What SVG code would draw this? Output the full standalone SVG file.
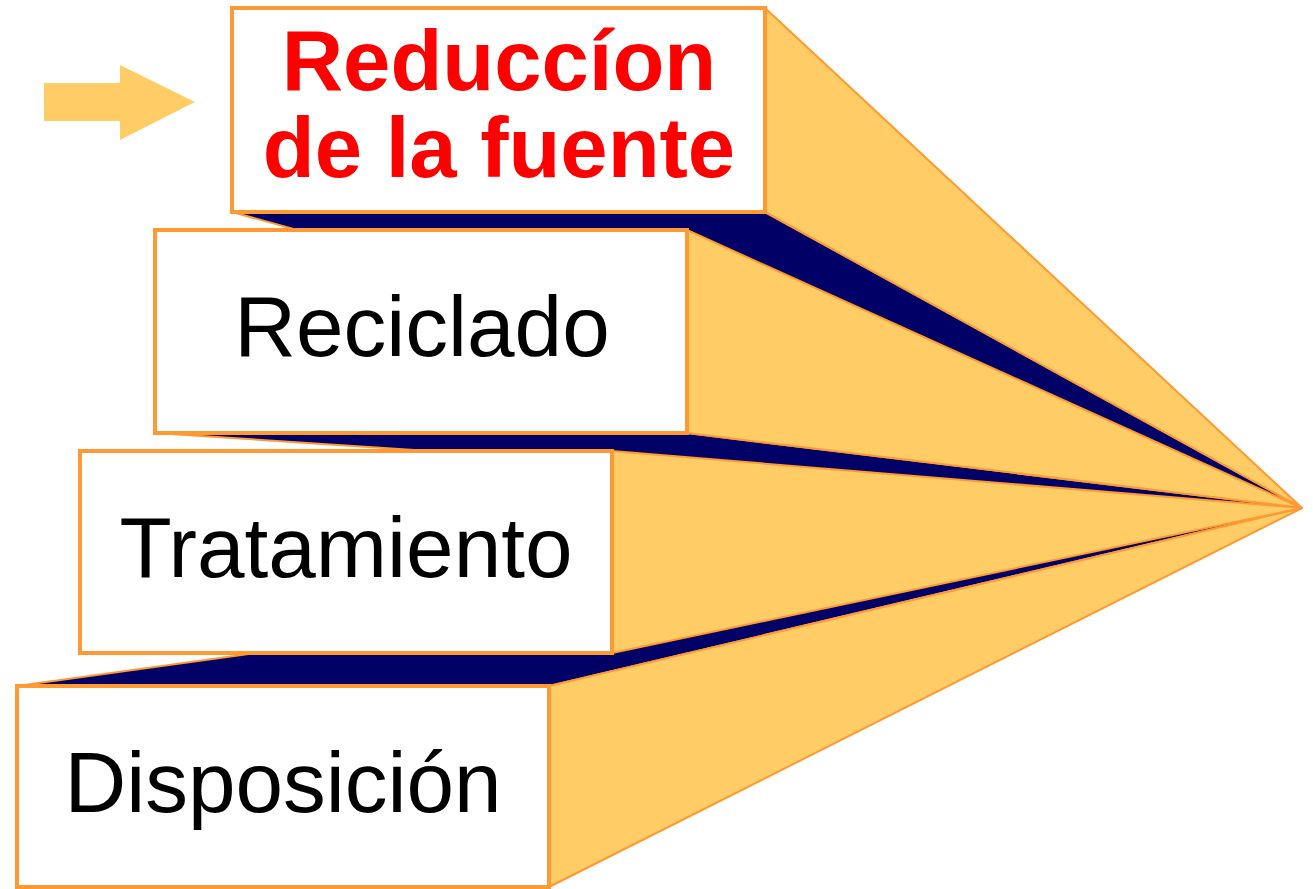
<svg xmlns="http://www.w3.org/2000/svg" width="1313" height="889" viewBox="0 0 1313 889">
<style>
.side{fill:#FFCC66;stroke:#FF9933;stroke-width:2;stroke-linejoin:round}
.dark{fill:#000066;stroke:#FF9933;stroke-width:2;stroke-linejoin:round}
.front{fill:#FFFFFF;stroke:#FF9933;stroke-width:4}
.lbl{font-family:"Liberation Sans",Arial,sans-serif;font-size:85.5px;fill:#000000;text-anchor:middle}
.red{font-weight:bold;fill:#FF0000;font-size:85px}
</style>
<rect width="1313" height="889" fill="#FFFFFF"/>
<g id="arrow">
<polygon points="44,83 120,83 120,65 195,102 120,140 120,121 44,121" fill="#FFCC66"/>
</g>
<g id="box1">
<polygon class="dark" points="232,212 765,212 1302,508"/>
<polygon class="side" points="765,8 765,212 1302,508"/>
<rect class="front" x="232" y="8" width="533" height="204"/>
<text class="lbl red" x="499" y="90">Reduccíon</text>
<text class="lbl red" x="499" y="177">de la fuente</text>
</g>
<g id="box2">
<polygon class="dark" points="155,433 687,433 1302,508"/>
<polygon class="side" points="687,230 687,433 1302,508"/>
<rect class="front" x="155" y="230" width="532" height="203"/>
<text class="lbl" x="422" y="356">Reciclado</text>
</g>
<g id="box4">
<polygon class="dark" points="17,686 549,686 1302,508"/>
<polygon class="side" points="549,686 549,887 1302,508"/>
<rect class="front" x="17" y="686" width="532" height="201"/>
<text class="lbl" x="283" y="812">Disposición</text>
</g>
<g id="box3">
<polygon class="side" points="612,451 612,653 1302,508"/>
<rect class="front" x="80" y="451" width="532" height="202"/>
<text class="lbl" x="346" y="577">Tratamiento</text>
</g>
<g id="connectors"></g>
</svg>
